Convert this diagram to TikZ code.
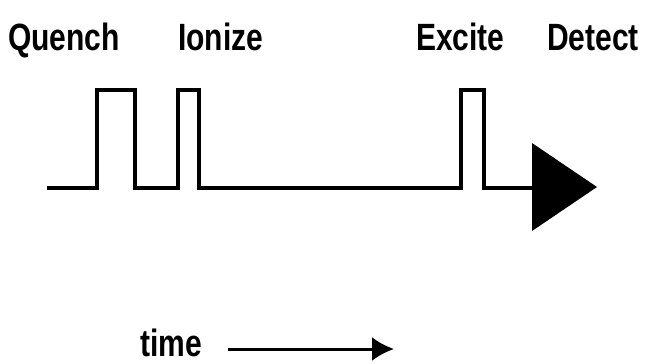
\documentclass[tikz,border=0pt]{standalone}
\usepackage{fontspec}
\setmainfont{Liberation Sans}
\usetikzlibrary{arrows.meta}
\begin{document}
\begin{tikzpicture}[x=1pt,y=-1pt,
  lbl/.style={anchor=base west,inner sep=0pt,font=\fontsize{38}{40}\selectfont\bfseries,xscale=0.79},
  wave/.style={line width=4pt,line join=miter,line cap=butt}]
\useasboundingbox (0,0) rectangle (646,364);
\node[lbl] (quench) at (8,50) {Quench};
\node[lbl] (ionize) at (178,50) {Ionize};
\node[lbl] (excite) at (416,50) {Excite};
\node[lbl] (detect) at (547,50) {Detect};
\draw[wave] (47,188) -- (97,188) -- (97,90) -- (135,90) -- (135,188)
  -- (178,188) -- (178,90) -- (199,90) -- (199,188)
  -- (461,188) -- (461,90) -- (484,90) -- (484,188) -- (540,188);
\fill (532,143) -- (597,187) -- (532,231) -- cycle;
\node[lbl] (time) at (140,356) {time};
\coordinate (t0) at (228,349);
\coordinate (t1) at (394,349);
\draw[line width=3pt,-{Latex[length=22pt,width=24pt]}] (t0) -- (t1);
\end{tikzpicture}
\end{document}
